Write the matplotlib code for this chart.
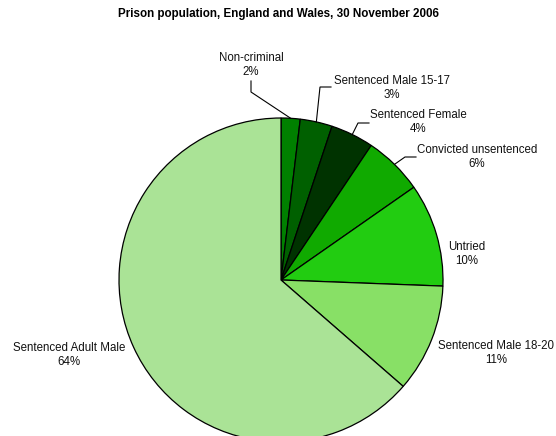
import matplotlib
matplotlib.use('Agg')
import matplotlib.pyplot as plt
import numpy as np

plt.rcParams['font.family'] = ['Liberation Sans', 'DejaVu Sans']

# Prison population shares (%), clockwise from 12 o'clock
categories = ['Non-criminal', 'Sentenced Male 15-17', 'Sentenced Female',
              'Convicted unsentenced', 'Untried', 'Sentenced Male 18-20',
              'Sentenced Adult Male']
percent = [1.9, 3.2, 4.3, 5.9, 10.3, 10.8, 63.6]
colors = ['#008000', '#006000', '#003300', '#10aa00', '#22cc11', '#88e066', '#aae396']

# label centres in pixel coordinates (x, y from top)
label_pos = [(251, 65), (392, 88), (418, 122), (477, 157),
             (467, 254), (496, 353), (69, 355)]
# leader lines: (start, elbow) in pixel coordinates, None for no leader
leaders = [((251, 81), (251, 92)), ((331, 87), (320, 87)),
           ((369, 123), (358, 123)), ((416, 157), (405, 157)),
           None, None, None]

W, H = 556, 436
fig = plt.figure(figsize=(W / 100, H / 100), dpi=100)
ax = fig.add_axes([0, 0, 1, 1])

cx, cy, r = 281, H - 280, 162
wedges, _ = ax.pie(percent, colors=colors, startangle=90, counterclock=False,
                   center=(cx, cy), radius=r,
                   wedgeprops=dict(edgecolor='black', linewidth=0.9))
ax.set_xlim(0, W)
ax.set_ylim(0, H)
ax.set_aspect('equal')
ax.axis('off')

for w, name, p, (lx, ly), ld in zip(wedges, categories, percent, label_pos, leaders):
    ax.text(lx, H - ly, f'{name}\n{p:.0f}%', ha='center', va='center',
            fontsize=8.3, linespacing=1.3, color='#111111')
    if ld is not None:
        mid = np.deg2rad((w.theta1 + w.theta2) / 2)
        ex, ey = cx + r * np.cos(mid), cy + r * np.sin(mid)
        (sx, sy), (bx, by) = ld
        ax.plot([sx, bx, ex], [H - sy, H - by, ey], color='black', lw=0.8,
                solid_joinstyle='miter')

fig.text(0.5, 1 - 14 / H, 'Prison population, England and Wales, 30 November 2006',
         ha='center', va='center', fontsize=8.4, fontweight='bold')

fig.savefig('out.png', dpi=100, facecolor='white')
